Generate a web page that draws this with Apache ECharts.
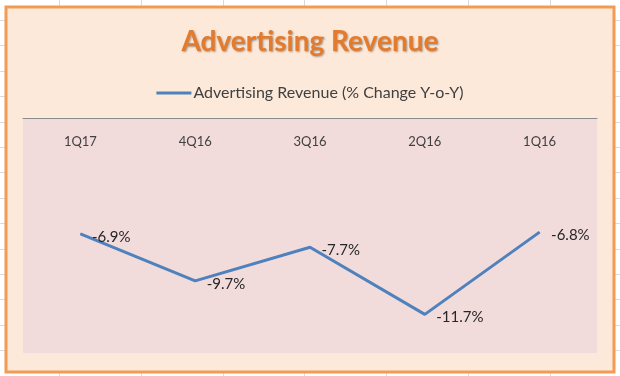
<!DOCTYPE html>
<html>
<head>
<meta charset="utf-8">
<script src="https://cdn.jsdelivr.net/npm/echarts@6/dist/echarts.min.js"></script>
<style>
  html, body { margin: 0; padding: 0; background: #ffffff; }
  #chart { width: 620px; height: 376px; }
</style>
</head>
<body>
<div id="chart"></div>
<script>
  // quarters, newest first (as in the source sheet)
  const quarters = ['1Q17', '4Q16', '3Q16', '2Q16', '1Q16']
  const adRevenueChange = [-6.9, -9.7, -7.7, -11.7, -6.8]
  const seriesName = 'Advertising Revenue (% Change Y-o-Y)'

  const font = 'Lato, "Open Sans", sans-serif'

  // faint spreadsheet cells behind the chart box
  let sheet = []
  for (let x = 59; x < 620; x += 81.8) {
    sheet.push({ type: 'line', z: -20, silent: true,
      shape: { x1: Math.round(x) + 0.5, y1: 0, x2: Math.round(x) + 0.5, y2: 376 },
      style: { stroke: '#d9dbdd', lineWidth: 1 } })
  }
  for (let y = 20; y < 376; y += 25.4) {
    sheet.push({ type: 'line', z: -20, silent: true,
      shape: { x1: 0, y1: Math.round(y) + 0.5, x2: 620, y2: Math.round(y) + 0.5 },
      style: { stroke: '#d9dbdd', lineWidth: 1 } })
  }

  const chart = echarts.init(document.getElementById('chart'))
  chart.setOption({
    animation: false,
    graphic: sheet.concat([
      {
        type: 'rect', z: -10, silent: true,
        shape: { x: 6, y: 7, width: 608, height: 365 },
        style: { fill: '#fde9d9', stroke: '#f29c53', lineWidth: 3 }
      }
    ]),
    title: {
      text: 'Advertising Revenue',
      left: 'center',
      top: 23,
      textStyle: {
        fontFamily: font,
        fontSize: 28,
        fontWeight: 'bold',
        color: '#e47b2c',
        textShadowColor: 'rgba(0,0,0,0.35)',
        textShadowBlur: 2,
        textShadowOffsetX: 1,
        textShadowOffsetY: 1
      }
    },
    legend: {
      data: [seriesName],
      top: 80,
      left: 'center',
      icon: 'rect',
      itemWidth: 35,
      itemHeight: 3,
      itemGap: 0,
      textStyle: { fontFamily: font, fontSize: 16, color: '#404040', padding: [0, 0, 0, -3] }
    },
    grid: {
      left: 23,
      right: 23,
      top: 118,
      bottom: 23,
      show: true,
      backgroundColor: '#f2dcdb',
      borderWidth: 0
    },
    xAxis: {
      type: 'category',
      data: quarters,
      position: 'top',
      boundaryGap: true,
      axisLine: { show: true, lineStyle: { color: '#8c8c8c', width: 1 } },
      axisTick: { show: false },
      axisLabel: {
        inside: true,
        margin: 17,
        fontFamily: font,
        fontSize: 13,
        color: '#404040'
      },
      splitLine: { show: false }
    },
    yAxis: {
      type: 'value',
      min: -14,
      max: 0,
      show: false,
      splitLine: { show: false }
    },
    series: [
      {
        name: seriesName,
        type: 'line',
        data: adRevenueChange,
        symbol: 'circle',
        symbolSize: 1,
        lineStyle: { color: '#4f81bd', width: 3 },
        itemStyle: { color: '#4f81bd' },
        label: {
          show: true,
          position: 'right',
          distance: 11,
          offset: [0, 3],
          fontFamily: font,
          fontSize: 15,
          color: '#262626',
          formatter: (p) => p.value + '%'
        }
      }
    ]
  })
</script>
</body>
</html>
